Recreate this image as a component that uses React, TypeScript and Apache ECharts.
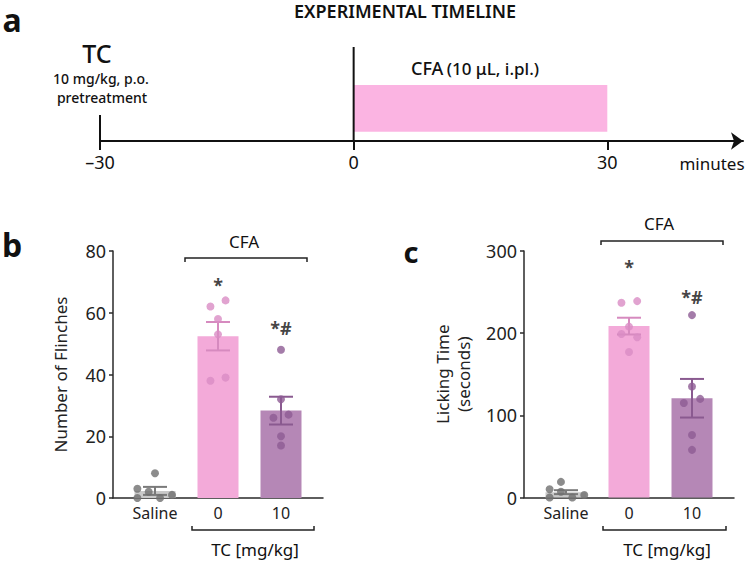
import React, { useEffect, useRef } from "react";
import * as echarts from "echarts";

// ---------- data ----------
const categories = ["Saline", "0", "10"];
const groupX = [1, 2, 3];

const flinchMean = [2.3, 52.4, 28.3];
const flinchSem = [1.3, 4.6, 4.5];
const flinchDots = [
  [8, 3, 2, 0, 0, 1],
  [62, 64, 58, 53, 38, 39],
  [48, 32, 26, 27, 20, 17],
];
const flinchJitter = [
  [0, -0.28, -0.1, -0.28, 0.08, 0.27],
  [-0.12, 0.12, 0, 0, -0.12, 0.12],
  [0, 0, -0.12, 0.12, 0, 0],
];

const lickMean = [6.5, 208.6, 120.8];
const lickSem = [2.4, 10.2, 23.5];
const lickDots = [
  [19, 10, 7, 0, 0, 3],
  [237, 239, 208, 199, 195, 177],
  [222, 135, 115, 120, 76, 58],
];
const lickJitter = [
  [-0.08, -0.26, -0.08, -0.26, 0.1, 0.29],
  [-0.12, 0.13, 0, -0.12, 0.13, 0],
  [0, 0, -0.13, 0.13, 0, 0],
];

const sigLabels = ["", "*", "*#"];
const flinchSigY = [0, 69, 55];
const lickSigY = [0, 280, 244];

const flinchTicks = { min: 0, max: 80, interval: 20 };
const lickTicks = { min: 0, max: 300, interval: 100 };

// timeline
const timelineTicks = [-30, 0, 30];
const timelineEvents = [
  [-30, 0.277],
  [0, 1],
];
const cfaWindow = [[0, 30, 0.099, 0.596]];

// ---------- style ----------
const FONT = "'Noto Sans', 'Open Sans', sans-serif";
const barColors = ["#C9C9C9", "#F3AAD9", "#B587B6"];
const dotColors = ["#6F6F6F", "#D98CC4", "#8D5B93"];
const errColors = ["#7A7A7A", "#D68ABF", "#8A5A90"];
const AX = "#2a2a2a";

function barData(means: number[]) {
  return means.map((m, i) => ({ value: [groupX[i], m], itemStyle: { color: barColors[i] } }));
}
function errData(means: number[], sems: number[]) {
  return means.map((m, i) => [groupX[i], m - sems[i], m + sems[i]]);
}
function dotData(dots: number[][], jit: number[][]) {
  const out: any[] = [];
  dots.forEach((g, i) =>
    g.forEach((v, j) => out.push({ value: [groupX[i] + jit[i][j], v], itemStyle: { color: dotColors[i] } }))
  );
  return out;
}
function sigData(ys: number[]) {
  const out: any[] = [];
  sigLabels.forEach((s, i) => {
    if (s) out.push({ value: [groupX[i], ys[i]], label: { formatter: s } });
  });
  return out;
}

const errRender = (params: any, api: any) => {
  const x = api.value(0);
  const lo = api.coord([x, api.value(1)]);
  const hi = api.coord([x, api.value(2)]);
  const half = 12;
  const c = errColors[params.dataIndex];
  const st = { stroke: c, lineWidth: 2 };
  return {
    type: "group",
    children: [
      { type: "line", shape: { x1: lo[0], y1: lo[1], x2: hi[0], y2: hi[1] }, style: st },
      { type: "line", shape: { x1: hi[0] - half, y1: hi[1], x2: hi[0] + half, y2: hi[1] }, style: st },
      { type: "line", shape: { x1: lo[0] - half, y1: lo[1], x2: lo[0] + half, y2: lo[1] }, style: st },
    ],
  };
};

function panelSeries(idx: number, means: number[], sems: number[], dots: number[][], jit: number[][], sigY: number[]) {
  return [
    { type: "bar", xAxisIndex: idx, yAxisIndex: idx, barWidth: 41, data: barData(means), z: 2 },
    { type: "custom", xAxisIndex: idx, yAxisIndex: idx, renderItem: errRender, encode: { x: 0, y: [1, 2] }, data: errData(means, sems), z: 3 },
    { type: "scatter", xAxisIndex: idx, yAxisIndex: idx, symbolSize: 8, data: dotData(dots, jit), z: 4 },
    {
      type: "scatter", xAxisIndex: idx, yAxisIndex: idx, symbolSize: 0, data: sigData(sigY),
      label: { show: true, position: "inside", color: "#111", fontSize: 18, fontWeight: "bold", fontFamily: FONT },
      z: 5,
    },
  ];
}

function catXAxis(grid: number) {
  return {
    type: "value", gridIndex: grid, min: 1 / 3, max: 11 / 3,
    axisLine: { show: true, onZero: false, lineStyle: { color: AX, width: 1.5 } },
    axisTick: { show: false },
    splitLine: { show: false },
    axisLabel: { customValues: groupX, formatter: (v: number) => categories[Math.round(v) - 1], fontSize: 16, color: "#222", fontFamily: FONT, margin: 7 },
  };
}

function valYAxis(grid: number, t: any, name: string, gap: number) {
  return {
    type: "value", gridIndex: grid, min: t.min, max: t.max, interval: t.interval,
    name, nameLocation: "middle", nameGap: gap,
    nameTextStyle: { fontSize: 17, color: "#222", fontFamily: FONT, lineHeight: 21 },
    axisLine: { show: true, onZero: false, lineStyle: { color: AX, width: 1.5 } },
    axisTick: { show: true, length: 4, lineStyle: { color: AX, width: 1.5 } },
    splitLine: { show: false },
    axisLabel: { fontSize: 18, color: "#222", fontFamily: FONT, margin: 7 },
  };
}

function txt(text: string, x: number, y: number, size: number, opts: any = {}) {
  return { type: "text", x, y, style: { text, fill: "#111", font: `${opts.weight || "normal"} ${size}px ${FONT}`, align: opts.align || "center", verticalAlign: "middle" } };
}
function line(pts: number[][]) {
  return { type: "polyline", shape: { points: pts }, style: { stroke: "#222", lineWidth: 1.5, fill: null } };
}

export default function App() {
  const ref = useRef<HTMLDivElement>(null);
  useEffect(() => {
    document.body.style.margin = "0";
    const chart = echarts.init(ref.current!, null, { renderer: "svg" });
    const option: any = {
      animation: false,
      backgroundColor: "#fff",
      grid: [
        { left: 100, right: 8, top: 47, height: 94 },
        { left: 113, right: 428, top: 251, bottom: 63 },
        { left: 524, right: 17, top: 251, bottom: 63.5 },
      ],
      xAxis: [
        {
          type: "value", gridIndex: 0, min: -30, max: 46.05,
          axisLine: { show: true, onZero: false, symbol: ["none", "arrow"], symbolSize: [13, 12], lineStyle: { color: "#111", width: 2 } },
          axisTick: { show: true, customValues: timelineTicks, length: 9, lineStyle: { color: "#111", width: 2 } },
          splitLine: { show: false },
          axisLabel: { customValues: timelineTicks, formatter: (v: number) => (v < 0 ? "–" + Math.abs(v) : String(v)), fontSize: 18, color: "#111", fontFamily: FONT, margin: 12 },
        },
        catXAxis(1),
        catXAxis(2),
      ],
      yAxis: [
        { type: "value", gridIndex: 0, min: 0, max: 1, show: false },
        valYAxis(1, flinchTicks, "Number of Flinches", 42),
        valYAxis(2, lickTicks, "Licking Time\n(seconds)", 50),
      ],
      series: [
        {
          type: "custom", xAxisIndex: 0, yAxisIndex: 0, data: cfaWindow, encode: { x: [0, 1], y: [2, 3] },
          renderItem: (_p: any, api: any) => {
            const a = api.coord([api.value(0), api.value(3)]);
            const b = api.coord([api.value(1), api.value(2)]);
            return { type: "rect", shape: { x: a[0], y: a[1], width: b[0] - a[0], height: b[1] - a[1] }, style: { fill: "#FBB4E2" } };
          },
          z: 1,
        },
        {
          type: "custom", xAxisIndex: 0, yAxisIndex: 0, data: timelineEvents, encode: { x: 0, y: 1 },
          renderItem: (_p: any, api: any) => {
            const a = api.coord([api.value(0), 0]);
            const b = api.coord([api.value(0), api.value(1)]);
            return { type: "line", shape: { x1: a[0], y1: a[1], x2: b[0], y2: b[1] }, style: { stroke: "#111", lineWidth: 2 } };
          },
          z: 2,
        },
        ...panelSeries(1, flinchMean, flinchSem, flinchDots, flinchJitter, flinchSigY),
        ...panelSeries(2, lickMean, lickSem, lickDots, lickJitter, lickSigY),
      ],
      graphic: {
        elements: [
          txt("a", 12, 19, 32, { weight: "bold" }),
          txt("EXPERIMENTAL TIMELINE", 405, 11, 18, { weight: 600 }),
          txt("TC", 97, 53, 25, { weight: 500 }),
          txt("10 mg/kg, p.o.", 101, 78.5, 14, { weight: 500 }),
          txt("pretreatment", 102, 97.5, 14, { weight: 500 }),
          {
            type: "text",
            x: 411,
            y: 68,
            style: {
              text: "{a|CFA} {b|(10 μL, i.pl.)}",
              align: "left",
              verticalAlign: "middle",
              rich: {
                a: { fontSize: 18, fontFamily: FONT, fill: "#111", fontWeight: 500 },
                b: { fontSize: 17, fontFamily: FONT, fill: "#111", fontWeight: 500 },
              },
            },
          },
          txt("minutes", 712, 163, 17),
          txt("b", 12, 244, 32, { weight: "bold" }),
          txt("c", 411, 251, 29, { weight: "bold" }),
          txt("CFA", 244, 241, 17),
          line([[185, 262], [185, 258], [307, 258], [307, 262]]),
          line([[192, 526], [192, 530], [314, 530], [314, 526]]),
          txt("TC [mg/kg]", 255, 549, 17),
          txt("CFA", 659, 223, 17),
          line([[601, 245], [601, 241], [723, 241], [723, 245]]),
          line([[603, 526], [603, 530], [726, 530], [726, 526]]),
          txt("TC [mg/kg]", 667, 549, 17),
        ],
      },
    };
    chart.setOption(option);
    return () => chart.dispose();
  }, []);
  return <div ref={ref} style={{ width: 751, height: 561 }} />;
}
